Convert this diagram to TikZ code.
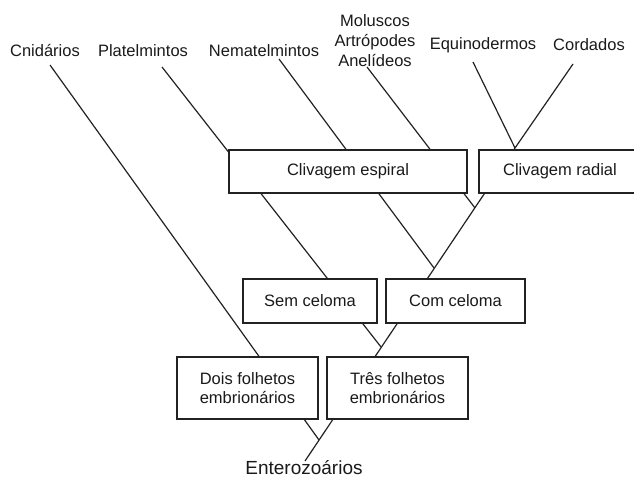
\documentclass[tikz,border=0pt]{standalone}
\usepackage{fontspec}
\setmainfont{Liberation Sans}
\begin{document}
\begin{tikzpicture}[x=1pt, y=-1pt,
    branch/.style={draw=lineColour, line width=1.2pt},
    trait/.style={draw=lineColour, fill=white, line width=1.2pt, inner sep=0pt,
        align=center, text=textColour, font=\fontsize{16.5}{19.5}\selectfont},
    taxon/.style={inner sep=0pt, align=center, text=textColour,
        font=\fontsize{16.5}{20}\selectfont}]
    \definecolor{lineColour}{HTML}{222222}
    \definecolor{textColour}{HTML}{1A1A1A}

    \useasboundingbox (0,0) rectangle (634,478);

    % Free ends of the branches
    \coordinate (cnid) at (50,65);
    \coordinate (plat) at (162,67);
    \coordinate (nema) at (279,59);
    \coordinate (molu) at (367,67);
    \coordinate (equi) at (473,62);
    \coordinate (cord) at (573,64);

    % Branching points on the main stem
    \coordinate (base) at (305,461);
    \coordinate (root) at (319,440);
    \coordinate (tripl) at (381,347);
    \coordinate (coel) at (434,268);
    \coordinate (spir) at (475,208);
    \coordinate (deut) at (515,148);

    % Draw branches
    \draw[branch] (base) -- (deut);
    \draw[branch] (cnid) -- (root);
    \draw[branch] (plat) -- (tripl);
    \draw[branch] (nema) -- (coel);
    \draw[branch] (molu) -- (spir);
    \draw[branch] (equi) -- (deut);
    \draw[branch] (cord) -- (deut);

    % Taxa
    \node[taxon] (cnidLabel) at (45,51) {Cnidários};
    \node[taxon] (platLabel) at (143,51) {Platelmintos};
    \node[taxon] (nemaLabel) at (264,51) {Nematelmintos};
    \node[taxon] (moluLabel) at (375,41) {Moluscos\\Artrópodes\\Anelídeos};
    \node[taxon] (equiLabel) at (483,45) {Equinodermos};
    \node[taxon] (cordLabel) at (589,45) {Cordados};
    \node[taxon, font=\fontsize{19}{22}\selectfont] (enteroLabel) at (304,468) {Enterozoários};

    % Boxes with the traits
    \node[trait, minimum width=238pt, minimum height=43pt] (espiral) at (348,171.5) {Clivagem espiral};
    \node[trait, minimum width=162pt, minimum height=43pt] (radial) at (560,171.5) {Clivagem radial};
    \node[trait, minimum width=134pt, minimum height=44pt] (semCel) at (310,301) {Sem celoma};
    \node[trait, minimum width=139pt, minimum height=44pt] (comCel) at (455.5,301) {Com celoma};
    \node[trait, minimum width=141pt, minimum height=62pt] (dois) at (247.5,388) {Dois folhetos\\embrionários};
    \node[trait, minimum width=141pt, minimum height=62pt] (tres) at (397.5,388) {Três folhetos\\embrionários};

\end{tikzpicture}
\end{document}
